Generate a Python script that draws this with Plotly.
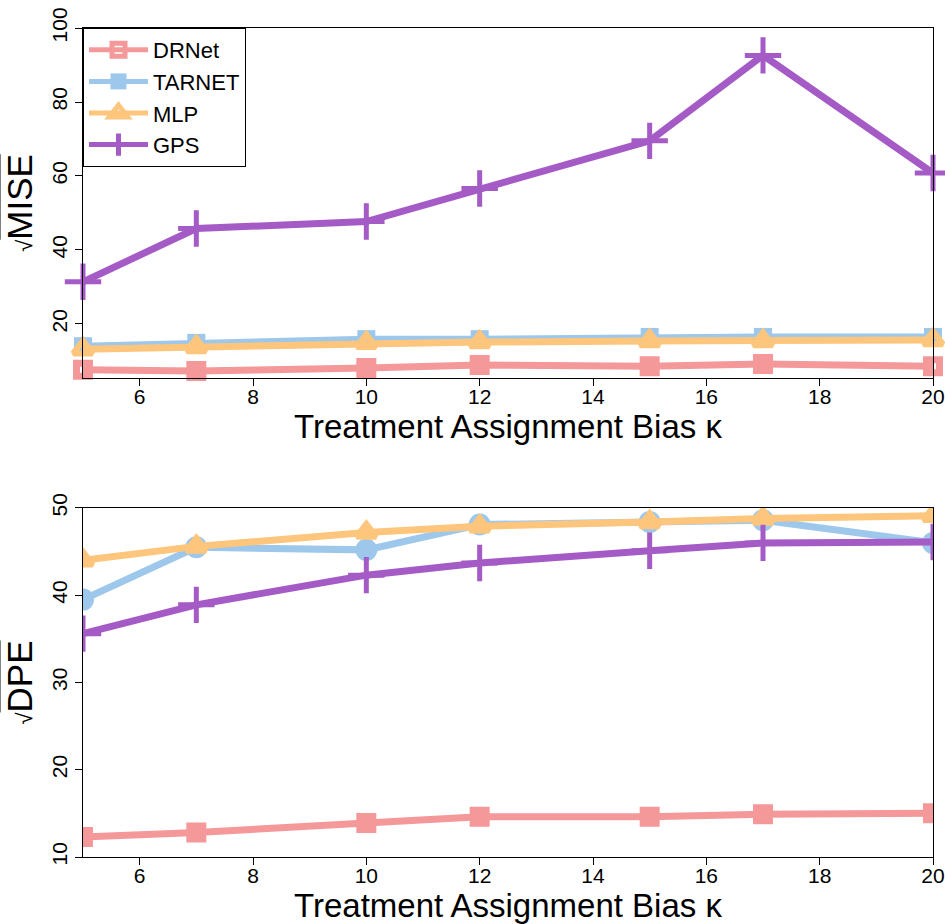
import plotly.graph_objects as go

kappa = [5, 7, 10, 12, 15, 17, 20]
series_names = ["DRNet", "TARNET", "MLP", "GPS"]

mise_drnet = [7.6, 7.3, 8.1, 8.9, 8.6, 9.2, 8.6]
mise_tarnet = [14.0, 14.9, 15.9, 15.9, 16.5, 16.5, 16.5]
mise_mlp = [13.2, 13.8, 14.9, 15.1, 15.4, 15.4, 15.7]
mise_gps = [31.4, 45.8, 47.7, 56.6, 69.5, 92.6, 60.8]

dpe_drnet = [12.3, 12.8, 13.9, 14.6, 14.6, 14.9, 15.0]
dpe_tarnet = [39.5, 45.5, 45.2, 48.1, 48.4, 48.6, 46.0]
dpe_mlp = [44.0, 45.6, 47.2, 47.9, 48.4, 48.8, 49.1]
dpe_gps = [35.6, 38.9, 42.3, 43.7, 45.1, 46.0, 46.1]

x_ticks = [6, 8, 10, 12, 14, 16, 18, 20]
mise_ticks = [20, 40, 60, 80, 100]
dpe_ticks = [10, 20, 30, 40, 50]

colors = {"DRNet": "#F4989A", "TARNET": "#9DC8EB", "MLP": "#FEC67D", "GPS": "#A55BC5"}
FONT = "Liberation Sans, Arial, Helvetica, sans-serif"

def marker_style(name, panel):
    c = colors[name]
    if name == "DRNet":
        return dict(symbol="square-open", size=13, color=c, line=dict(color=c, width=7))
    if name == "TARNET":
        if panel == "bottom":
            return dict(symbol="circle", size=22, color=c, line=dict(color=c, width=0))
        return dict(symbol="square", size=18, color=c, line=dict(color=c, width=0))
    if name == "MLP":
        return dict(symbol="triangle-up-open", size=17, color=c, line=dict(color=c, width=6))
    return dict(symbol="cross-thin", size=26, color=c, line=dict(color=c, width=5))

fig = go.Figure()

top = {"DRNet": mise_drnet, "TARNET": mise_tarnet, "MLP": mise_mlp, "GPS": mise_gps}
bottom = {"DRNet": dpe_drnet, "TARNET": dpe_tarnet, "MLP": dpe_mlp, "GPS": dpe_gps}

for name in series_names:
    fig.add_trace(go.Scatter(
        x=kappa, y=top[name], mode="lines+markers", name=name, showlegend=False,
        line=dict(color=colors[name], width=7), marker=marker_style(name, "top"),
        xaxis="x", yaxis="y", cliponaxis=False))
for name in series_names:
    fig.add_trace(go.Scatter(
        x=kappa, y=bottom[name], mode="lines+markers", name=name, showlegend=False,
        line=dict(color=colors[name], width=7), marker=marker_style(name, "bottom"),
        xaxis="x2", yaxis="y2", cliponaxis=True))
for name in series_names:
    fig.add_trace(go.Scatter(
        x=[None], y=[None], mode="lines+markers", name=name, showlegend=True,
        line=dict(color=colors[name], width=5), marker=marker_style(name, "legend"),
        xaxis="x", yaxis="y"))

axis_common = dict(showline=True, linecolor="black", linewidth=1, mirror=True,
                   ticks="outside", ticklen=7, tickcolor="black", showgrid=False,
                   zeroline=False, automargin=False,
                   tickfont=dict(family=FONT, size=21, color="black"))

xtitle = dict(text="Treatment Assignment Bias κ", font=dict(family=FONT, size=33, color="black"), standoff=6)

fig.update_layout(
    width=945, height=924,
    margin=dict(l=83, r=12, t=28, b=67, autoexpand=False),
    paper_bgcolor="white", plot_bgcolor="white",
    showlegend=True,
    xaxis=dict(domain=[0, 1], range=[5, 20], anchor="y", tickvals=x_ticks,
               ticklabelstandoff=-7, title=xtitle, **axis_common),
    yaxis=dict(domain=[0.5778, 1.0], range=[5.4, 100], anchor="x", tickvals=mise_ticks,
               tickangle=-90,
               title=dict(text="<span style='font-size:22px'>√</span><span style='text-decoration:overline'>MISE</span>",
                          font=dict(family=FONT, size=35, color="black"), standoff=4),
               **axis_common),
    xaxis2=dict(domain=[0, 1], range=[5, 20], anchor="y2", tickvals=x_ticks,
                ticklabelstandoff=-7, title=xtitle, **axis_common),
    yaxis2=dict(domain=[0, 0.421], range=[10, 50], anchor="x2", tickvals=dpe_ticks,
                tickangle=-90,
                title=dict(text="<span style='font-size:22px'>√</span><span style='text-decoration:overline'>DPE</span>",
                           font=dict(family=FONT, size=35, color="black"), standoff=4),
                **axis_common),
    legend=dict(x=0, y=1, xanchor="left", yanchor="top", xref="paper", yref="paper",
                bgcolor="white", bordercolor="black", borderwidth=1,
                font=dict(family=FONT, size=22, color="black"),
                tracegroupgap=0, itemwidth=59),
)

fig.write_html("out.html")
